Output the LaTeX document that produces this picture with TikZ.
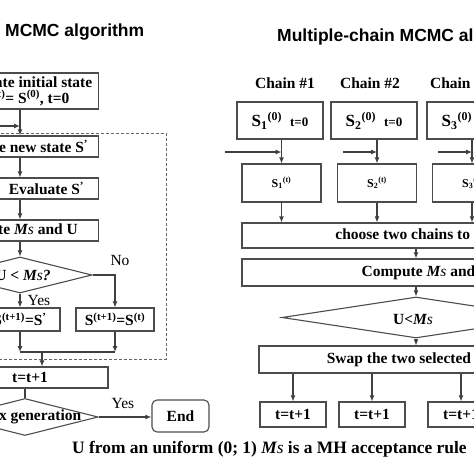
\documentclass[tikz,border=0pt]{standalone}
\usepackage{fontspec}
\setmainfont{Liberation Serif}
\newfontfamily\headfont{Liberation Sans}
\usepackage{tikz}
\usetikzlibrary{arrows.meta}
\usetikzlibrary{shapes.geometric,positioning}

\newcommand{\bodyfont}{\fontsize{15.5}{16}\selectfont\bfseries}
\newcommand{\Ms}{\textit{M{\mdseries s}}}

\tikzset{
  box/.style={draw=black!70, line width=1.1pt, inner sep=0pt, font=\bodyfont},
  decision/.style={diamond, draw=black!70, line width=1.1pt, inner sep=0pt},
  lbl/.style={inner sep=0pt, font=\bodyfont},
  link/.style={draw=black!75, line width=1.1pt},
  arr/.style={-{Latex[length=6pt,width=5pt]}},
}

\begin{document}
\begin{tikzpicture}[x=1pt,y=-1pt]
            \useasboundingbox (0,0) rectangle (474,474);
            \clip (0,0) rectangle (474,474);

            % titles
            \node[lbl, anchor=west, font=\headfont\fontsize{17.5}{20}\selectfont\bfseries] (lefttitle) at (5,32) {MCMC algorithm};
            \node[lbl, anchor=west, font=\headfont\fontsize{17.5}{20}\selectfont\bfseries] (righttitle) at (277,37) {Multiple-chain MCMC algorithm};

            % single chain
            \coordinate (axis) at (20,0);
            \coordinate (loopin) at (-30,126);
            \coordinate (merge) at (42,352);

            \node[box, anchor=east, minimum width=151, minimum height=36, align=center, font=\fontsize{15.5}{16}\selectfont\bfseries] (init) at (99,91) {Generate initial state\\\hspace*{9pt}S\textsuperscript{(t)}= S\textsuperscript{(0)}, t=0};
            \node[box, anchor=east, minimum width=164, minimum height=21] (gen) at (99,146.5) {Generate new state S\textsuperscript{'}};
            \node[box, anchor=east, minimum width=104, minimum height=21] (eval) at (99,188.5) {Evaluate S\textsuperscript{'}};
            \node[box, anchor=east, minimum width=170, minimum height=21] (comp) at (99,230.5) {Compute \Ms{} and U};
            \node[decision, minimum width=144, minimum height=36] (dec1) at (20,275) {};
            \node[lbl] (dec1txt) at (23,275) {U \textit{< \Ms?}};
            \node[box, minimum width=80, minimum height=23] (accept) at (20,319.5) {S\textsuperscript{(t+1)}=S\textsuperscript{'}};
            \node[box, minimum width=78, minimum height=23] (keep) at (115,319.5) {S\textsuperscript{(t+1)}=S\textsuperscript{(t)}};
            \node[lbl, font=\fontsize{15.5}{16}\selectfont] (nolbl) at (120,260) {No};
            \node[lbl, font=\fontsize{15.5}{16}\selectfont] (yeslbl) at (39,300) {Yes};
            \node[box, minimum width=156, minimum height=21] (tinc) at (30,377.5) {t=t+1};
            \node[decision, minimum width=146, minimum height=37] (dec2) at (25,417) {};
            \node[lbl] (dec2txt) at (29,417) {Max generation};
            \node[box, rounded corners=5pt, minimum width=57, minimum height=32] (end) at (180.5,416) {End};
            \node[lbl, font=\fontsize{15.5}{16}\selectfont] (yes2lbl) at (123,403) {Yes};

            \draw[dashed, draw=black!60, line width=0.9pt, dash pattern=on 3pt off 2pt] (-100,133) rectangle (166,359);

            \draw[link,arr] (init.south -| axis) -- (gen.north -| axis);
            \draw[link,arr] (loopin) -- (loopin -| axis);
            \draw[link,arr] (gen.south -| axis) -- (eval.north -| axis);
            \draw[link,arr] (eval.south -| axis) -- (comp.north -| axis);
            \draw[link,arr] (comp.south -| axis) -- (dec1.north);
            \draw[link,arr] (dec1.east) -| (keep.north);
            \draw[link,arr] (dec1.south) -- (accept.north);
            \draw[link,arr] (accept.south) -- (accept.south |- merge);
            \draw[link,arr] (keep.south) -- (keep.south |- merge);
            \draw[link] (accept.south |- merge) -- (keep.south |- merge);
            \draw[link,arr] (merge) -- (merge |- tinc.north);
            \draw[link] (tinc.south -| dec2.north) -- (dec2.north);
            \draw[link,arr] (dec2.east) -- (dec2.east -| end.west);

            % multiple chains
            \node[lbl, font=\fontsize{15.5}{17}\selectfont\bfseries] (chain1) at (285,83) {Chain \#1};
            \node[lbl, font=\fontsize{15.5}{17}\selectfont\bfseries] (chain2) at (370,83) {Chain \#2};
            \node[lbl, font=\fontsize{15.5}{17}\selectfont\bfseries] (chain3) at (460,83) {Chain \#3};

            \node[box, minimum width=86, minimum height=37, font=\fontsize{17}{17}\selectfont\bfseries] (s1init) at (280,120.5) {S\textsubscript{1}\textsuperscript{(0)}\hspace{8pt}{\fontsize{13}{14}\selectfont t=0}};
            \node[box, minimum width=86, minimum height=37, font=\fontsize{17}{17}\selectfont\bfseries] (s2init) at (374,120.5) {S\textsubscript{2}\textsuperscript{(0)}\hspace{8pt}{\fontsize{13}{14}\selectfont t=0}};
            \node[box, minimum width=86, minimum height=37, font=\fontsize{17}{17}\selectfont\bfseries] (s3init) at (470,120.5) {S\textsubscript{3}\textsuperscript{(0)}\hspace{8pt}{\fontsize{13}{14}\selectfont t=0}};

            \coordinate (in1) at (225,152);
            \coordinate (in2) at (343,152);
            \coordinate (in3) at (438,152);

            \node[box, minimum width=79, minimum height=38, font=\fontsize{12}{14}\selectfont\bfseries] (s1cur) at (281.5,183) {S\textsubscript{1}\textsuperscript{(t)}};
            \node[box, minimum width=79, minimum height=38, font=\fontsize{12}{14}\selectfont\bfseries] (s2cur) at (377,183) {S\textsubscript{2}\textsuperscript{(t)}};
            \node[box, minimum width=79, minimum height=38, font=\fontsize{12}{14}\selectfont\bfseries] (s3cur) at (472,183) {S\textsubscript{3}\textsuperscript{(t)}};

            \node[box, minimum width=359, minimum height=25] (choose) at (421.5,235.5) {choose two chains to swap};
            \node[box, minimum width=368, minimum height=27] (comp2) at (426,272.5) {Compute \Ms{} and U};
            \node[decision, minimum width=268, minimum height=41] (dec3) at (416,317.5) {};
            \node[lbl] (dec3txt) at (413,319) {U<\Ms};
            \node[box, minimum width=326, minimum height=27] (swap) at (422,359.5) {Swap the two selected chains};

            \node[box, minimum width=66, minimum height=25] (t1) at (293,414.5) {t=t+1};
            \node[box, minimum width=66, minimum height=25] (t2) at (372,414.5) {t=t+1};
            \node[box, minimum width=66, minimum height=25] (t3) at (461,414.5) {t=t+1};

            \draw[link,arr] (s1cur.north |- s1init.south) -- (s1cur.north);
            \draw[link,arr] (s2cur.north |- s2init.south) -- (s2cur.north);
            \draw[link,arr] (s3cur.north |- s3init.south) -- (s3cur.north);
            \draw[link,arr] (in1) -- (in1 -| s1cur.north);
            \draw[link,arr] (in2) -- (in2 -| s2cur.north);
            \draw[link,arr] (in3) -- (in3 -| s3cur.north);
            \draw[link,arr] (s1cur.south) -- (s1cur.south |- choose.north);
            \draw[link,arr] (s2cur.south) -- (s2cur.south |- choose.north);
            \draw[link,arr] (s3cur.south) -- (s3cur.south |- choose.north);
            \draw[link,arr] (dec3.north |- choose.south) -- (dec3.north |- comp2.north);
            \draw[link,arr] (comp2.south -| dec3.north) -- (dec3.north);
            \draw[link,arr] (dec3.south) -- (dec3.south |- swap.north);
            \draw[link,arr] (t1.north |- swap.south) -- (t1.north);
            \draw[link,arr] (t2.north |- swap.south) -- (t2.north);
            \draw[link,arr] (t3.north |- swap.south) -- (t3.north);

            % note
            \node[lbl, anchor=west, font=\fontsize{17.4}{18}\selectfont\bfseries] (caption) at (72,449) {U from an uniform (0; 1) \Ms{} is a MH acceptance rule};
\end{tikzpicture}
\end{document}
